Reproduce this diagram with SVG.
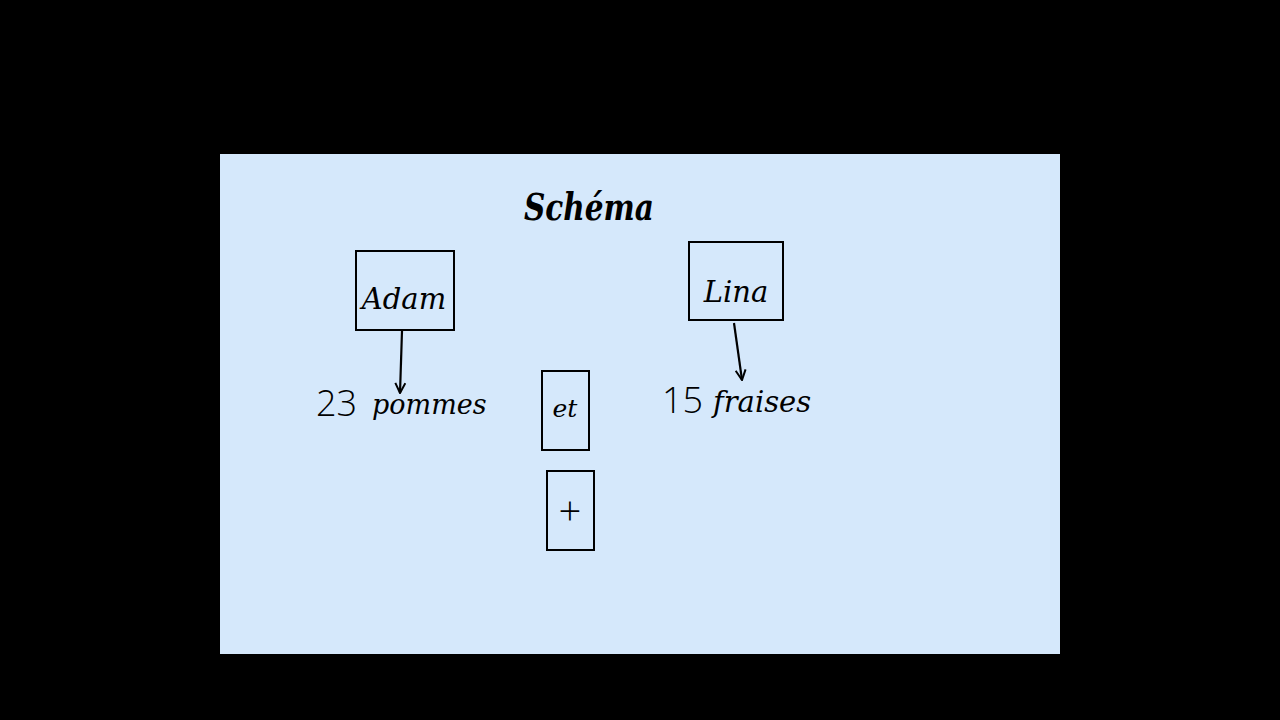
<svg xmlns="http://www.w3.org/2000/svg" width="1280" height="720" viewBox="0 0 1280 720">
<defs>
<style>
.box{fill:none;stroke:#000;stroke-width:2}
.cur{font-family:"DejaVu Serif","Liberation Serif",serif;font-style:italic;fill:#000}
.num{font-family:"Open Sans","DejaVu Sans",sans-serif;font-weight:300;fill:#000}
.con{stroke:#000;stroke-width:2.2;fill:none}
</style>
<marker id="ah" viewBox="0 0 12 12" refX="11" refY="6" markerWidth="12" markerHeight="12" orient="auto" markerUnits="userSpaceOnUse">
<path d="M1,1 L11,6 L1,11" fill="none" stroke="#000" stroke-width="2"/>
</marker>
</defs>
<rect width="1280" height="720" fill="#000"/>
<rect x="220" y="154" width="840" height="500" fill="#d5e8fb"/>
<text x="524" y="220" class="cur" font-size="38" font-weight="bold" textLength="130" lengthAdjust="spacingAndGlyphs">Schéma</text>
<g id="adam">
<rect class="box" x="356" y="251" width="98" height="79"/>
<text x="404" y="309" class="cur" font-size="29" text-anchor="middle">Adam</text>
</g>
<g id="lina">
<rect class="box" x="689" y="242" width="94" height="78"/>
<text x="736" y="302" class="cur" font-size="29" text-anchor="middle">Lina</text>
</g>
<g id="pommes">
<text x="316" y="416" class="num" font-size="36">23</text>
<text x="372" y="414" class="cur" font-size="27">pommes</text>
</g>
<g id="fraises">
<text x="662" y="413" class="num" font-size="36">15</text>
<text x="713" y="412" class="cur" font-size="29">fraises</text>
</g>
<g id="et">
<rect class="box" x="542" y="371" width="47" height="79"/>
<text x="565" y="417" class="cur" font-size="25" text-anchor="middle">et</text>
</g>
<g id="plus">
<rect class="box" x="547" y="471" width="47" height="79"/>
<text x="570" y="525" class="num" font-size="40" font-weight="400" text-anchor="middle">+</text>
</g>
<g id="connectors">
<line class="con" x1="402" y1="331" x2="400" y2="393" marker-end="url(#ah)"/>
<line class="con" x1="734" y1="323" x2="742" y2="380" marker-end="url(#ah)"/>
</g>
</svg>
